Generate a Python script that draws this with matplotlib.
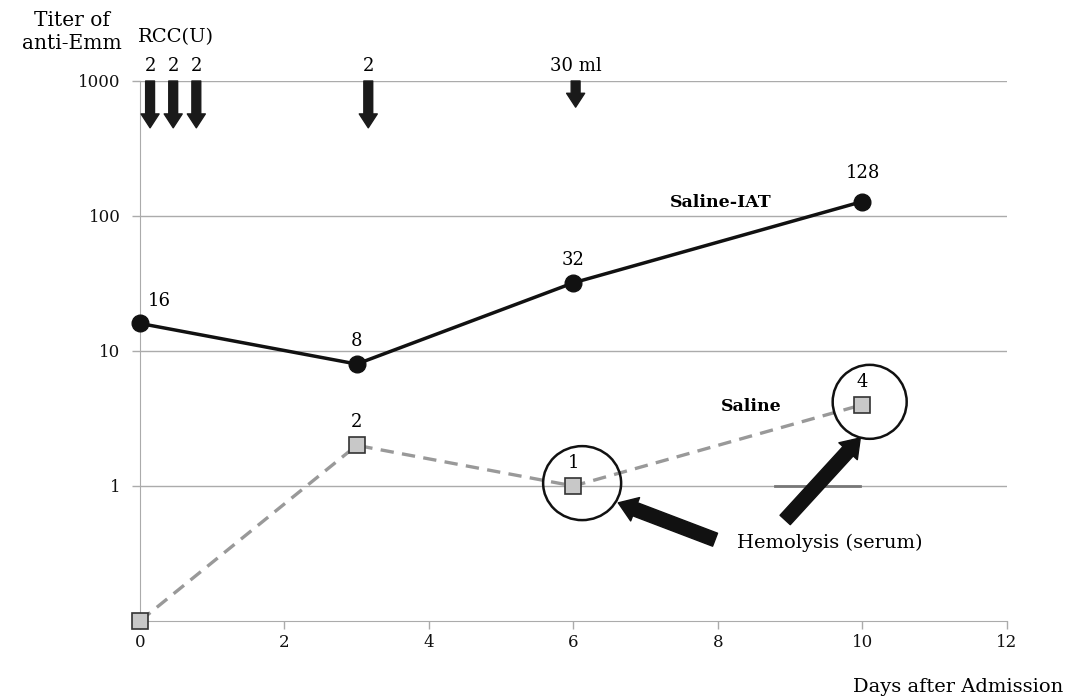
import matplotlib
matplotlib.use("Agg")
import matplotlib.pyplot as plt
from matplotlib.patches import Ellipse
from matplotlib.transforms import ScaledTranslation

plt.rcParams['font.family'] = ['DejaVu Serif']

# data
days = [0, 3, 6, 10]
saline_iat = [16, 8, 32, 128]
saline = [0.1, 2, 1, 4]
iat_labels = ["16", "8", "32", "128"]
saline_labels = ["", "2", "1", "4"]

# transfusions (RCC units, days, arrow tip)
rcc_days = [0.14, 0.46, 0.78, 3.16, 6.03]
rcc_labels = ["2", "2", "2", "2", "30 ml"]
rcc_tips = [450, 450, 450, 450, 640]

# hemolysis circles (day, titer)
hemo_pts = [(6, 1), (10, 4)]
hemo_sizes = [(0.78, 0.74), (0.74, 0.74)]  # inches
hemo_arrows = [((7.96, 0.40), (6.62, 0.75)), ((8.93, 0.56), (9.97, 2.27))]

fig = plt.figure(figsize=(10.75, 7), dpi=100)
ax = fig.add_axes([0.1302, 0.1129, 0.8065, 0.7714])
ax.set_yscale('log')
ax.set_xlim(0, 12)
ax.set_ylim(0.1, 1000)

grey = '#ababab'
ax.set_yticks([1, 10, 100, 1000])
ax.set_yticklabels(["1", "10", "100", "1000"])
ax.minorticks_off()
ax.set_xticks(range(0, 13, 2))
ax.yaxis.grid(True, color=grey, lw=1)
ax.set_axisbelow(True)
for s in ['top', 'right']:
    ax.spines[s].set_visible(False)
for s in ['left', 'bottom']:
    ax.spines[s].set_color(grey)
ax.tick_params(axis='both', colors=grey, labelcolor='#111111', labelsize=12, length=6, width=1)
ax.tick_params(axis='y', pad=8)

# short segment on y=1
ax.plot([8.79, 9.97], [1, 1], color='#777777', lw=2, zorder=2)

ax.plot(days, saline, color='#999999', lw=2.4, ls=(0, (4, 2.5)), zorder=3,
        marker='s', ms=12, mfc='#c8c8c8', mec='#333333', mew=1.2, clip_on=False)
ax.plot(days, saline_iat, color='#111111', lw=2.5, zorder=4,
        marker='o', ms=12, mfc='#111111', mec='#111111', clip_on=False)

for x, y, t in zip(days, saline_iat, iat_labels):
    dx = 14 if x == 0 else 0
    dy = 14 if x == 10 else 10
    ax.annotate(t, (x, y), xytext=(dx, dy), textcoords='offset points',
                ha='center', va='bottom', fontsize=13)
for x, y, t in zip(days, saline, saline_labels):
    ax.annotate(t, (x, y), xytext=(0, 10), textcoords='offset points',
                ha='center', va='bottom', fontsize=13)

ax.text(8.04, 125, "Saline-IAT", fontsize=12.5, fontweight='bold', ha='center', va='center')
ax.text(8.46, 3.85, "Saline", fontsize=12.5, fontweight='bold', ha='center', va='center')

# circles around hemolysed samples
for (cx, cy), (w, h) in zip(hemo_pts, hemo_sizes):
    tr = fig.dpi_scale_trans + ScaledTranslation(cx + (0.1 if cx == 10 else 0.12), cy * 1.05, ax.transData)
    ax.add_patch(Ellipse((0, 0), w, h, transform=tr, fill=False, ec='#111111', lw=1.8, zorder=5))

for tail, head in hemo_arrows:
    ax.annotate("", xy=head, xytext=tail,
                arrowprops=dict(arrowstyle="simple,head_length=0.65,head_width=0.9,tail_width=0.5",
                                color='#111111', shrinkA=0, shrinkB=0, mutation_scale=20))
ax.text(9.55, 0.379, "Hemolysis (serum)", fontsize=14, ha='center', va='center')

# transfusion arrows
for x, t, tip in zip(rcc_days, rcc_labels, rcc_tips):
    ax.annotate("", xy=(x, tip), xytext=(x, 1000),
                arrowprops=dict(arrowstyle="simple,head_length=0.5,head_width=0.65,tail_width=0.32",
                                color='#1a1a1a', shrinkA=0, shrinkB=0, mutation_scale=20),
                annotation_clip=False)
    ax.text(x, 1000 * 1.1, t, fontsize=13, ha='center', va='bottom')

fig.text(72 / 1075, 1 - 32 / 700, "Titer of\nanti-Emm", fontsize=14.5, ha='center', va='center', linespacing=1.25)
fig.text(176 / 1075, 1 - 37 / 700, "RCC(U)", fontsize=14, ha='center', va='center')
fig.text(958 / 1075, 1 - 687 / 700, "Days after Admission", fontsize=14, ha='center', va='center')

fig.savefig("out.png", dpi=100)
